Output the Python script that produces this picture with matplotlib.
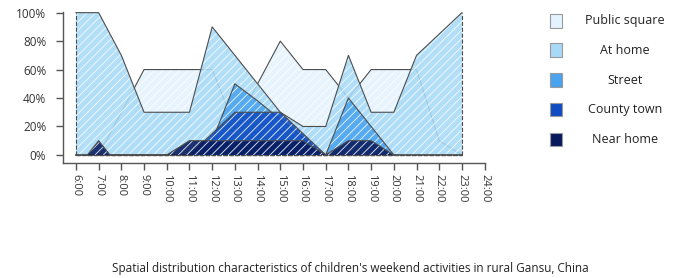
import matplotlib
matplotlib.use("Agg")
import matplotlib.pyplot as plt
from matplotlib.patches import Rectangle

plt.rcParams['font.family'] = ['Open Sans', 'DejaVu Sans']
plt.rcParams['hatch.linewidth'] = 0.6

# data (percent of children)
hours = list(range(6, 24))
public_square = [0, 0, 30, 60, 60, 60, 60, 20, 50, 80, 60, 60, 40, 60, 60, 60, 10, 0]
at_home = [100, 100, 70, 30, 30, 30, 90, 70, 50, 30, 20, 20, 70, 30, 30, 70, 85, 100]
street = [0, 0, 0, 0, 0, 0, 10, 50, 38, 25, 12, 0, 40, 20, 0, 0, 0, 0]
county_town = [0, 0, 0, 0, 0, 0, 15, 30, 30, 30, 15, 0, 0, 0, 0, 0, 0, 0]
near_hours = [6.5, 7, 7.5, 10, 11, 12, 13, 14, 15, 16, 17, 18, 19, 20]
near_home = [0, 10, 0, 0, 10, 10, 10, 10, 10, 10, 0, 10, 10, 0]

names = ['Public square', 'At home', 'Street', 'County town', 'Near home']
colors = ['#e4f3fd', '#a8daf8', '#4aa3f0', '#0f4cc2', '#07195c']
tick_labels = ['%d:00' % h for h in range(6, 25)]

series = [(hours, public_square), (hours, at_home), (hours, street),
          (hours, county_town), (near_hours, near_home)]

fig = plt.figure(figsize=(7, 2.78), dpi=100)
ax = fig.add_axes([0.09, 0.414, 0.604, 0.543])

line_c = '#4d4d4d'
for i, ((x, y), c) in enumerate(zip(series, colors)):
    z = 2 * i + 1
    ax.fill_between(x, 0, y, facecolor=c, edgecolor='white', hatch='////',
                    linewidth=0, alpha=0.88, zorder=z)
    ax.plot(x, y, color=line_c, lw=0.8, zorder=z + 0.5)
    # dashed closing edges
    ax.plot([x[0], x[0]], [0, y[0]], color=line_c, lw=0.8, ls='--', zorder=z + 0.5)
    ax.plot([x[-1], x[-1]], [0, y[-1]], color=line_c, lw=0.8, ls='--', zorder=z + 0.5)
    ax.plot([x[0], x[-1]], [0, 0], color=line_c, lw=0.8, ls='--', zorder=z + 0.5)

ax.set_xlim(5.43, 24.05)
ax.set_ylim(-5.6, 100.5)
ax.set_xticks(range(6, 25))
ax.set_xticklabels(tick_labels, rotation=-90, fontsize=8, color='#333333')
ax.set_yticks([0, 20, 40, 60, 80, 100])
ax.set_yticklabels(['0%', '20%', '40%', '60%', '80%', '100%'], fontsize=8.5, color='#333333')
for s in ['top', 'right']:
    ax.spines[s].set_visible(False)
for s in ['left', 'bottom']:
    ax.spines[s].set_color('#555555')
    ax.spines[s].set_linewidth(1)
ax.spines['bottom'].set_bounds(5.43, 24)
ax.tick_params(axis='both', colors='#555555', length=5, width=1, labelcolor='#333333')
ax.tick_params(axis='y', length=5, pad=7)
ax.tick_params(axis='x', pad=3)

# legend drawn by hand
leg_y = [0.925, 0.82, 0.712, 0.605, 0.498]
for name, c, yy in zip(names, colors, leg_y):
    fig.add_artist(Rectangle((0.785, yy - 0.024), 0.018, 0.048, transform=fig.transFigure,
                             facecolor=c, edgecolor='#9a9a9a', linewidth=0.8))
    fig.text(0.893, yy, name, ha='center', va='center', fontsize=9, color='#222222')

fig.text(0.5, 0.035, "Spatial distribution characteristics of children's weekend activities in rural Gansu, China",
         ha='center', va='center', fontsize=8.5, color='#222222')

fig.savefig('out.png', dpi=100)
